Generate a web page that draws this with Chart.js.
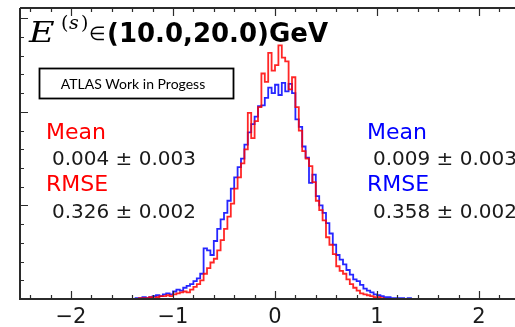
<!DOCTYPE html>
<html lang="en">
<head>
    <meta charset="UTF-8">
    <title>E(s) resolution</title>
    <script src="https://cdn.jsdelivr.net/npm/chart.js"></script>
    <style>
        html, body {
            margin: 0;
            padding: 0;
            background: #fff;
            overflow: hidden;
        }
        #wrap {
            position: absolute;
            left: 0;
            top: 0;
        }
    </style>
</head>
<body>
    <div id="wrap"><canvas id="histChart" width="560" height="327"></canvas></div>

    <script>
        // histogram bins: 1/30 wide, first left edge at -1.5
        var binStart = -1.5;
        var binWidth = 1 / 30;

        var redCounts = [
            0, 0, 0, 0, 0,
            1, 1, 1, 2, 1,
            2, 3, 3, 4, 3,
            5, 6, 7, 8, 7, 10,
            13, 16, 20, 27, 33, 39,
            43, 52, 63, 75, 88, 102,
            118, 130, 145, 160, 199, 172,
            190, 205, 241, 232, 263, 244,
            250, 271, 258, 254, 224, 237,
            205, 180, 158, 150, 142, 125,
            105, 95, 84, 66, 58, 48,
            35, 30, 27, 21, 16, 12,
            9, 6, 5, 4, 3, 2,
            2, 1, 0, 0, 0, 0,
            0, 0, 0, 0, 0, 0, 0, 0, 0
        ];

        var blueCounts = [
            0, 0, 0, 0,
            1, 1, 2, 1, 2,
            3, 4, 3, 5, 6, 5,
            8, 10, 9, 12, 14, 16,
            19, 22, 27, 54, 52, 47,
            62, 75, 85, 92, 105, 118,
            130, 141, 150, 165, 178, 187,
            195, 206, 207, 215, 226, 220,
            229, 218, 231, 222, 230, 220,
            192, 184, 163, 151, 124, 133,
            110, 100, 92, 81, 70, 58,
            47, 42, 37, 31, 26, 21,
            19, 15, 11, 9, 7, 5,
            4, 3, 2, 2, 1, 1,
            1, 1, 0, 1, 0, 0, 0, 0, 0
        ];

        var xTicks = [-2, -1, 0, 1, 2];
        var xTickLabels = ['\u22122', '\u22121', '0', '1', '2'];
        var yMajorStep = 100;
        var yMinorStep = 20;
        var xMinorStep = 0.2;

        var atlasLabel = 'ATLAS Work in Progess';
        var redStats = ['Mean', '0.004 \u00b1 0.003', 'RMSE', '0.326 \u00b1 0.002'];
        var blueStats = ['Mean', '0.009 \u00b1 0.003', 'RMSE', '0.358 \u00b1 0.002'];

        function toSteps(counts) {
            var pts = [];
            for (var i = 0; i < counts.length; i++) {
                pts.push({ x: binStart + i * binWidth, y: counts[i] });
            }
            pts.push({ x: binStart + counts.length * binWidth, y: 0 });
            return pts;
        }

        // axes, inward ticks and all the text
        var decorations = {
            id: 'decorations',
            afterDraw: function (chart) {
                var ctx = chart.ctx;
                var xs = chart.scales.x, ys = chart.scales.y;
                var a = chart.chartArea;
                ctx.save();

                ctx.strokeStyle = '#2b2b2b';
                ctx.lineWidth = 2;
                ctx.beginPath();
                ctx.moveTo(a.left, a.top);
                ctx.lineTo(a.right, a.top);
                ctx.moveTo(a.left, a.top);
                ctx.lineTo(a.left, a.bottom);
                ctx.lineTo(a.right, a.bottom);
                ctx.stroke();

                ctx.lineWidth = 1.2;
                ctx.beginPath();
                for (var v = -2.4; v < 2.5; v += xMinorStep) {
                    var px = Math.round(xs.getPixelForValue(v)) + 0.5;
                    var major = Math.abs(v - Math.round(v)) < 1e-6;
                    var len = major ? 8 : 4;
                    ctx.moveTo(px, a.bottom);
                    ctx.lineTo(px, a.bottom - len);
                    ctx.moveTo(px, a.top);
                    ctx.lineTo(px, a.top + len);
                }
                for (var w = yMinorStep; w < ys.max; w += yMinorStep) {
                    var py = Math.round(ys.getPixelForValue(w)) + 0.5;
                    var ylen = (w % yMajorStep === 0) ? 8 : 4;
                    ctx.moveTo(a.left, py);
                    ctx.lineTo(a.left + ylen, py);
                }
                ctx.stroke();

                ctx.fillStyle = '#1a1a1a';
                ctx.font = '21px "DejaVu Sans"';
                ctx.textAlign = 'center';
                ctx.textBaseline = 'alphabetic';
                xTicks.forEach(function (t, i) {
                    ctx.fillText(xTickLabels[i], xs.getPixelForValue(t), 323);
                });

                // title: E^(s) ∈ (10.0,20.0)GeV
                ctx.textAlign = 'left';
                ctx.fillStyle = '#000';
                ctx.save();
                ctx.translate(29, 42);
                ctx.scale(1.3, 1);
                ctx.font = 'italic 27px "DejaVu Serif"';
                ctx.fillText('E', 0, 0);
                ctx.restore();
                ctx.font = '19px "DejaVu Serif"';
                ctx.fillText('(', 61, 29);
                ctx.font = 'italic 19px "DejaVu Serif"';
                ctx.fillText('s', 69, 29);
                ctx.font = '19px "DejaVu Serif"';
                ctx.fillText(')', 81, 29);
                ctx.font = '19px "DejaVu Sans"';
                ctx.fillText('\u2208', 89, 40);
                ctx.font = 'bold 26px "DejaVu Sans"';
                ctx.fillText('(10.0,20.0)GeV', 107, 42);

                // label box
                ctx.fillStyle = '#fff';
                ctx.fillRect(39.5, 68.5, 194, 30);
                ctx.strokeStyle = '#000';
                ctx.lineWidth = 1.8;
                ctx.strokeRect(39.5, 68.5, 194, 30);
                ctx.fillStyle = '#000';
                ctx.font = '14px Lato';
                ctx.textAlign = 'center';
                ctx.fillText(atlasLabel, 133, 89);

                // stats
                ctx.textAlign = 'left';
                var rows = [139, 165, 191, 218];
                function stats(lines, colour, x) {
                    lines.forEach(function (s, i) {
                        var isLabel = (i % 2 === 0);
                        ctx.fillStyle = isLabel ? colour : '#1a1a1a';
                        ctx.font = isLabel ? '22px "DejaVu Sans"' : '20px "DejaVu Sans"';
                        ctx.fillText(s, isLabel ? x : x + 6, rows[i]);
                    });
                }
                stats(redStats, '#ff0000', 46);
                stats(blueStats, '#0000ff', 367);

                ctx.restore();
            }
        };

        var ctxHist = document.getElementById('histChart').getContext('2d');
        var histChart = new Chart(ctxHist, {
            type: 'line',
            data: {
                datasets: [{
                    label: 'red',
                    data: toSteps(redCounts),
                    stepped: 'before',
                    borderColor: 'rgba(255, 0, 0, 0.85)',
                    borderWidth: 1.8,
                    pointRadius: 0,
                    fill: false
                }, {
                    label: 'blue',
                    data: toSteps(blueCounts),
                    stepped: 'before',
                    borderColor: 'rgba(0, 0, 255, 0.85)',
                    borderWidth: 1.8,
                    pointRadius: 0,
                    fill: false
                }]
            },
            options: {
                responsive: false,
                animation: false,
                devicePixelRatio: 1,
                layout: {
                    padding: { left: 20, top: 8, right: 30, bottom: 28 }
                },
                plugins: {
                    legend: { display: false },
                    tooltip: { enabled: false }
                },
                scales: {
                    x: { type: 'linear', min: -2.5, max: 2.5, display: false },
                    y: { min: 0, max: 311, display: false }
                }
            },
            plugins: [decorations]
        });
    </script>
</body>
</html>
